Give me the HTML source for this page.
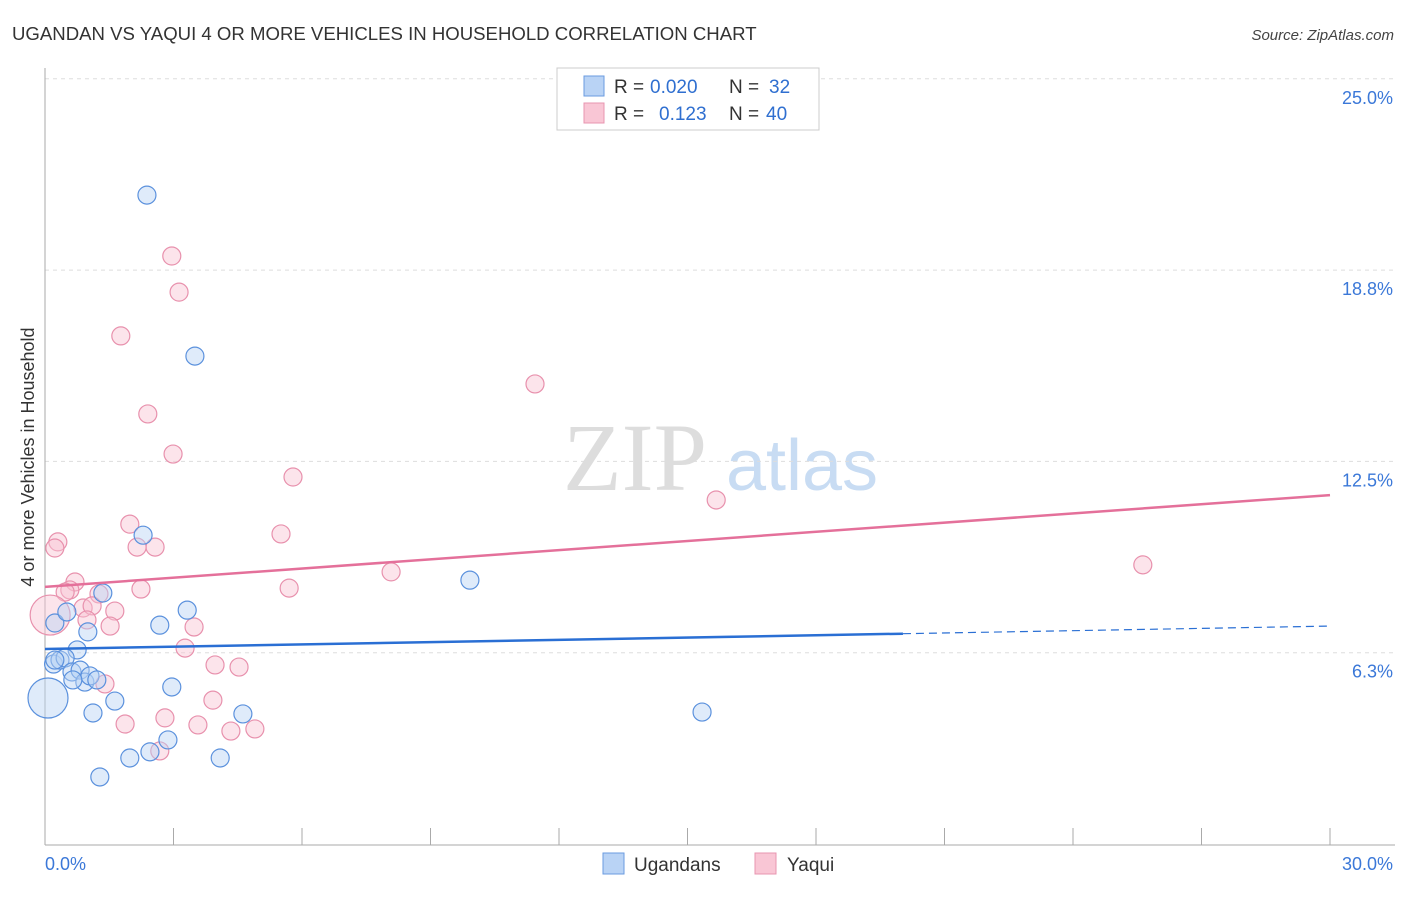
<!DOCTYPE html>
<html><head><meta charset="utf-8">
<style>
body{margin:0;background:#fff;font-family:"Liberation Sans",sans-serif;}
svg text{font-family:"Liberation Sans",sans-serif;}
</style></head>
<body>
<svg id="chart" width="1406" height="892" viewBox="0 0 1406 892" xmlns="http://www.w3.org/2000/svg">
<text x="12" y="40" font-size="18.6" fill="#333">UGANDAN VS YAQUI 4 OR MORE VEHICLES IN HOUSEHOLD CORRELATION CHART</text>
<text x="1394" y="40" font-size="15" fill="#444" font-style="italic" text-anchor="end">Source: ZipAtlas.com</text>
<text x="0" y="0" transform="translate(34,457) rotate(-90)" font-size="18" fill="#333" text-anchor="middle">4 or more Vehicles in Household</text>
<g>
<text x="635" y="490" font-size="96" fill="#ddd" text-anchor="middle" style="font-family:'Liberation Serif',serif">ZIP</text>
<text x="802" y="490" font-size="72" fill="#c8dcf3" text-anchor="middle">atlas</text>
</g>
<g id="grid"></g>
<g id="axes"></g>
<g id="marks"></g>
<g>
<rect x="557" y="68" width="262" height="62" fill="#fff" stroke="#ccc"/>
<rect x="584" y="76" width="20" height="20" fill="#b9d3f5" stroke="#6a9be0"/>
<rect x="584" y="103" width="20" height="20" fill="#f9c6d5" stroke="#e895b0"/>
<text x="614" y="93" font-size="19" fill="#333">R =</text>
<text x="650" y="93" font-size="19" fill="#2f6fd0">0.020</text>
<text x="729" y="93" font-size="19" fill="#333">N =</text>
<text x="769" y="93" font-size="19" fill="#2f6fd0">32</text>
<text x="614" y="120" font-size="19" fill="#333">R =</text>
<text x="659" y="120" font-size="19" fill="#2f6fd0">0.123</text>
<text x="729" y="120" font-size="19" fill="#333">N =</text>
<text x="766" y="120" font-size="19" fill="#2f6fd0">40</text>
</g>
<g>
<rect x="603" y="853" width="21" height="21" fill="#b9d3f5" stroke="#6a9be0"/>
<text x="634" y="871" font-size="19" fill="#333">Ugandans</text>
<rect x="755" y="853" width="21" height="21" fill="#f9c6d5" stroke="#e895b0"/>
<text x="787" y="871" font-size="19" fill="#333">Yaqui</text>
</g>
</svg>
<script>
const yTickValues=[6.25,12.5,18.75,25];
const yTickLabels=["6.3%","12.5%","18.8%","25.0%"];
const xTickValues=[0,3,6,9,12,15,18,21,24,27,30];
const ugX=[2.38,3.50,2.29,9.92,1.35,3.32,2.68,0.23,0.51,1.00,0.75,0.20,0.35,0.47,0.63,0.82,0.93,1.05,1.21,0.65,1.63,2.96,0.07,1.12,4.62,15.34,2.87,2.45,1.98,4.09,1.28,0.23];
const ugY=[21.20,15.94,10.09,8.62,8.20,7.64,7.15,7.22,7.58,6.93,6.34,5.88,6.01,6.08,5.62,5.68,5.29,5.49,5.36,5.36,4.67,5.13,4.77,4.28,4.25,4.31,3.40,3.01,2.81,2.81,2.19,6.01];
const yqX=[2.96,3.13,1.77,11.44,2.40,2.99,5.79,15.67,1.98,5.51,0.30,0.23,2.15,2.57,8.08,25.63,0.70,2.24,5.70,0.58,0.47,1.26,0.89,1.10,1.63,0.98,1.52,3.48,0.12,3.27,3.97,4.53,1.40,3.92,2.80,1.87,3.57,4.34,4.90,2.68];
const yqY=[19.21,18.03,16.60,15.03,14.05,12.74,11.99,11.24,10.45,10.13,9.87,9.67,9.70,9.70,8.89,9.12,8.56,8.33,8.36,8.30,8.23,8.17,7.71,7.78,7.61,7.32,7.12,7.09,7.48,6.40,5.85,5.78,5.23,4.70,4.12,3.92,3.89,3.69,3.76,3.04];
const ugTrend=[6.37,7.12];const ugSolidEnd=20.03;
const yqTrend=[8.40,11.40];
const NS="http://www.w3.org/2000/svg";
const X=v=>45+v/30*1285;
const Y=v=>844-v/6.25*191.3;
function mk(tag,at,parent){const e=document.createElementNS(NS,tag);for(const k in at)e.setAttribute(k,at[k]);document.getElementById(parent).appendChild(e);return e;}
yTickValues.forEach((v,i)=>{
 const l=mk('line',{x1:45,x2:1395,y1:Y(v),y2:Y(v),stroke:'#ddd','stroke-dasharray':'4,4'},'grid');
 
 
 const t=mk('text',{x:1393,y:Y(v)+25,'font-size':18,fill:'#3b78d8','text-anchor':'end'},'axes');
 t.textContent=yTickLabels[i];
 
 
});
let a=mk('line',{x1:45,x2:45,y1:68,y2:845,stroke:'#aaa'},'axes');


a=mk('line',{x1:45,x2:1395,y1:845,y2:845,stroke:'#aaa'},'axes');


xTickValues.forEach(v=>{
 const l=mk('line',{x1:X(v),x2:X(v),y1:828,y2:845,stroke:'#aaa'},'axes');
 
 
});
let t=mk('text',{x:45,y:870,'font-size':18,fill:'#3b78d8'},'axes');t.textContent='0.0%';


t=mk('text',{x:1393,y:870,'font-size':18,fill:'#3b78d8','text-anchor':'end'},'axes');t.textContent='30.0%';


function pts(xs,ys,fill,stroke,name,bigIdx){xs.forEach((x,i)=>{
 const big=(i===bigIdx);
 const c=mk('circle',{cx:X(x),cy:Y(ys[i]),r:big?20:9,fill:fill,'fill-opacity':0.45,stroke:stroke,'stroke-width':1.2},'marks');
 
 
});}
pts(yqX,yqY,'#f8c4d3','#e891ad','yaqui-point',28);
pts(ugX,ugY,'#b9d3f5','#5b91dd','ugandan-point',22);
let L=mk('line',{x1:X(0),y1:Y(yqTrend[0]),x2:X(30),y2:Y(yqTrend[1]),stroke:'#e4709a','stroke-width':2.5},'marks');


const ugAt=v=>ugTrend[0]+(ugTrend[1]-ugTrend[0])*v/30;
L=mk('line',{x1:X(0),y1:Y(ugTrend[0]),x2:X(ugSolidEnd),y2:Y(ugAt(ugSolidEnd)),stroke:'#2a6fd4','stroke-width':2.5},'marks');


L=mk('line',{x1:X(ugSolidEnd),y1:Y(ugAt(ugSolidEnd)),x2:X(30),y2:Y(ugTrend[1]),stroke:'#2a6fd4','stroke-width':1.2,'stroke-dasharray':'8,5'},'marks');


</script>
</body></html>
